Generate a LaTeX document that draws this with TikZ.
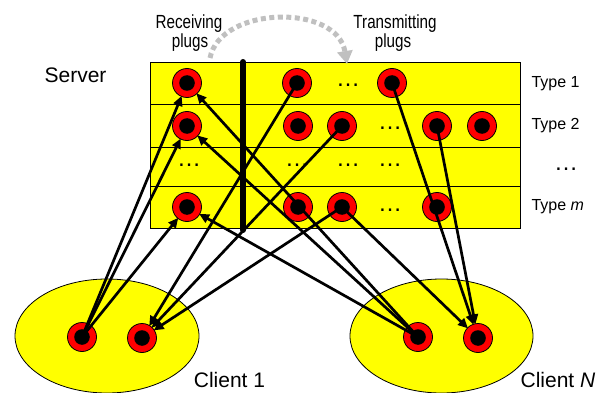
\documentclass[tikz,border=0pt]{standalone}
\usepackage{fontspec}
\setmainfont{Liberation Sans}
\usetikzlibrary{arrows.meta}
\definecolor{plugred}{RGB}{255,0,0}
\definecolor{boxyellow}{RGB}{255,255,0}
\definecolor{arcgray}{RGB}{192,192,192}
\begin{document}
\begin{tikzpicture}[x=1pt,y=-1pt,
  plug/.style={circle, draw=black, line width=0.8pt, fill=plugred, minimum size=29pt, inner sep=0pt,
    path picture={\fill[black] (path picture bounding box.center) circle (7.8pt);}},
  conn/.style={line width=2.7pt, -{Triangle[length=10pt,width=9pt]}, shorten >=-1pt},
  lbl/.style={font=\fontsize{21}{24}\selectfont, anchor=base},
  hdr/.style={font=\fontsize{19}{20}\selectfont, anchor=base},
  typ/.style={font=\fontsize{16}{18}\selectfont, anchor=base west},
  dts/.style={font=\fontsize{24}{26}\selectfont, anchor=base, inner sep=0pt},
  client/.style={draw=black, line width=0.8pt, fill=boxyellow}
]
\useasboundingbox (0,0) rectangle (610,393);
% clients
\path[client] (107,336) ellipse [x radius=92, y radius=57];
\path[client] (441.5,336) ellipse [x radius=91.5, y radius=57];
% server table
\path[draw=black, line width=0.8pt, fill=boxyellow] (150,62) rectangle (520,228);
\draw[line width=0.8pt] (150,104) -- (520,104);
\draw[line width=0.8pt] (150,147) -- (520,147);
\draw[line width=0.8pt] (150,186) -- (520,186);
% separator bar
\draw[line width=6pt, line cap=round] (243,62) -- (243,230);
% gray arc
\draw[arcgray, line width=5pt, dash pattern=on 5pt off 3.5pt, -{Triangle[length=13pt,width=15pt]}]
  (210,58) .. controls (220,6) and (337,3) .. (347,64);
% labels
\node[lbl] (server) at (75.5,83) {Server};
\node[lbl] (cl1) at (229.5,387) {Client 1};
\node[lbl] (cln) at (558,387) {Client \textit{N}};
\node[hdr] (recv1) at (189,29) {\scalebox{0.8}[1]{Receiving}};
\node[hdr] (recv2) at (190,48) {\scalebox{0.8}[1]{plugs}};
\node[hdr] (trans1) at (395,29) {\scalebox{0.8}[1]{Transmitting}};
\node[hdr] (trans2) at (393,48) {\scalebox{0.8}[1]{plugs}};
\node[typ] (ty1) at (528,88) {Type 1};
\node[typ] (ty2) at (528,130) {Type 2};
\node[dts] (tyd) at (566,170) {…};
\node[typ] (tym) at (528,210) {Type \textit{m}};
% dots in table
\node[dts] (d1) at (348,87) {…};
\node[dts] (d2) at (390,129) {…};
\node[dts] (d3a) at (189,166) {…};
\node[dts] (d3b) at (297,166) {…};
\node[dts] (d3c) at (348,166) {…};
\node[dts] (d3d) at (390,166) {…};
\node[dts] (d4) at (390,211) {…};
% plugs
\node[plug] (r1) at (187,83) {};
\node[plug] (t1a) at (297,83) {};
\node[plug] (t1b) at (392,83) {};
\node[plug] (r2) at (187,126) {};
\node[plug] (t2a) at (298,126) {};
\node[plug] (t2b) at (342,126) {};
\node[plug] (t2c) at (437,126) {};
\node[plug] (t2d) at (482,126) {};
\node[plug] (rm) at (187,207) {};
\node[plug] (tma) at (298,207) {};
\node[plug] (tmb) at (342,207) {};
\node[plug] (tmc) at (437,207) {};
\node[plug] (c1a) at (82,337) {};
\node[plug] (c1b) at (142,338) {};
\node[plug] (cna) at (418,337) {};
\node[plug] (cnb) at (478,338) {};
% connectors
\draw[conn] (c1a.center) -- (r1);
\draw[conn] (c1a.center) -- (r2);
\draw[conn] (c1a.center) -- (rm);
\draw[conn] (cna.center) -- (r1);
\draw[conn] (cna.center) -- (r2);
\draw[conn] (cna.center) -- (rm);
\draw[conn] (t1a.center) -- (c1b);
\draw[conn] (t2b.center) -- (c1b);
\draw[conn] (tmb.center) -- (c1b);
\draw[conn] (tmb.center) -- (cnb);
\draw[conn] (t1b.center) -- (cnb);
\draw[conn] (t2c.center) -- (cnb);
\end{tikzpicture}
\end{document}
